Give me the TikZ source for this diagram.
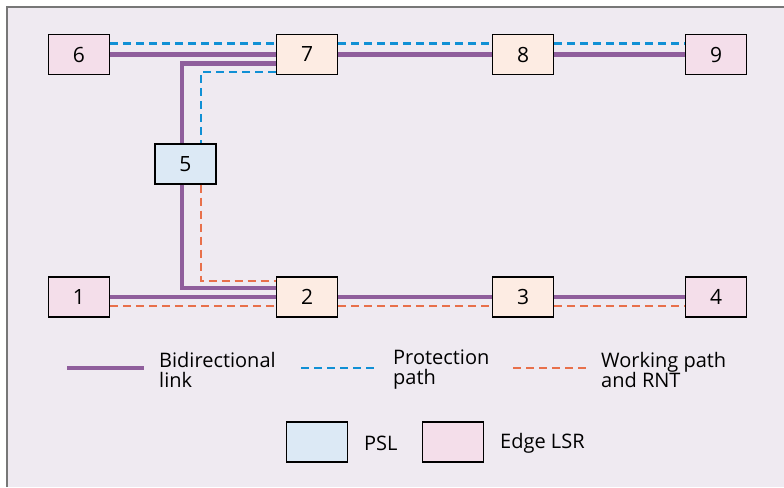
\documentclass[tikz,border=0pt]{standalone}
\usepackage{fontspec}
\setmainfont{Open Sans}
\definecolor{panelbg}{HTML}{EFEAF1}
\definecolor{framegray}{HTML}{777777}
\definecolor{linkpurple}{HTML}{8F5E9C}
\definecolor{protblue}{HTML}{1090D5}
\definecolor{workorange}{HTML}{E8704B}
\definecolor{edgefill}{HTML}{F4DEEA}
\definecolor{corefill}{HTML}{FDECE3}
\definecolor{pslfill}{HTML}{DCE9F5}
\tikzset{
  lsr/.style={draw=black, line width=1.2pt, minimum width=61pt, minimum height=40pt,
              inner sep=0pt, font=\fontsize{21}{21}\selectfont},
  edgelsr/.style={lsr, fill=edgefill},
  corelsr/.style={lsr, fill=corefill},
  pslnode/.style={lsr, fill=pslfill},
  biLink/.style={draw=linkpurple, line width=4.5pt},
  protPath/.style={draw=protblue, line width=2.5pt, dash pattern=on 8pt off 5pt},
  workPath/.style={draw=workorange, line width=2.5pt, dash pattern=on 8pt off 5pt},
  legendtext/.style={anchor=west, align=left, inner sep=0pt,
                     font=\fontsize{20}{20}\selectfont},
}
\begin{document}
\begin{tikzpicture}[x=1pt, y=-1pt]
  % canvas and panel
  \useasboundingbox (0,0) rectangle (784,487);
  \fill[white] (0,0) rectangle (784,487);
  \fill[panelbg] (7,7) rectangle (784,487);
  \draw[framegray, line width=2pt] (6.5,487) -- (6.5,7.5) -- (784,7.5);

  % routers
  \node[edgelsr] (n6) at (79,54.5) {6};
  \node[corelsr] (n7) at (307,54.5) {7};
  \node[corelsr] (n8) at (523,54.5) {8};
  \node[edgelsr] (n9) at (716,54.5) {9};
  \node[pslnode] (n5) at (185.5,164) {5};
  \node[edgelsr] (n1) at (79,297) {1};
  \node[corelsr] (n2) at (307,297) {2};
  \node[corelsr] (n3) at (523,297) {3};
  \node[edgelsr] (n4) at (716,297) {4};

  % bidirectional links
  \draw[biLink] (n6.east) -- (n7.west);
  \draw[biLink] (n7.east) -- (n8.west);
  \draw[biLink] (n8.east) -- (n9.west);
  \draw[biLink] (n1.east) -- (n2.west);
  \draw[biLink] (n2.east) -- (n3.west);
  \draw[biLink] (n3.east) -- (n4.west);
  \draw[biLink] ([yshift=-9pt]n7.west) -| ([xshift=-3.5pt]n5.north);
  \draw[biLink] ([xshift=-3.5pt]n5.south) |- ([yshift=9pt]n2.west);

  % protection path
  \draw[protPath] ([yshift=11pt]n6.east) -- ([yshift=11pt]n7.west);
  \draw[protPath] ([yshift=11pt]n7.east) -- ([yshift=11pt]n8.west);
  \draw[protPath] ([yshift=11pt]n8.east) -- ([yshift=11pt]n9.west);
  \draw[protPath] ([yshift=-17.5pt]n7.west) -| ([xshift=15.5pt]n5.north);

  % working path and RNT
  \draw[workPath] ([yshift=-9pt]n1.east) -- ([yshift=-9pt]n2.west);
  \draw[workPath] ([yshift=-9pt]n2.east) -- ([yshift=-9pt]n3.west);
  \draw[workPath] ([yshift=-9pt]n3.east) -- ([yshift=-9pt]n4.west);
  \draw[workPath] ([xshift=15.5pt]n5.south) |- ([yshift=16pt]n2.west);

  % legend: line styles
  \coordinate (lgA1) at (67,368);  \coordinate (lgA2) at (144,368);
  \coordinate (lgB1) at (301,368); \coordinate (lgB2) at (375,368);
  \coordinate (lgC1) at (513,368); \coordinate (lgC2) at (588,368);
  \draw[biLink] (lgA1) -- (lgA2);
  \draw[protPath] (lgB1) -- (lgB2);
  \draw[workPath] (lgC1) -- (lgC2);
  \node[legendtext] (lgAt) at (159,370) {Bidirectional\\link};
  \node[legendtext] (lgBt) at (393,370) {Protection\\path};
  \node[legendtext] (lgCt) at (601,370) {Working path\\and RNT};

  % legend: node kinds
  \node[pslnode] (lgPsl) at (317,442) {};
  \node[legendtext] (lgPslt) at (364,443) {PSL};
  \node[edgelsr] (lgEdge) at (453,442) {};
  \node[legendtext] (lgEdget) at (500,443) {Edge LSR};
\end{tikzpicture}
\end{document}
